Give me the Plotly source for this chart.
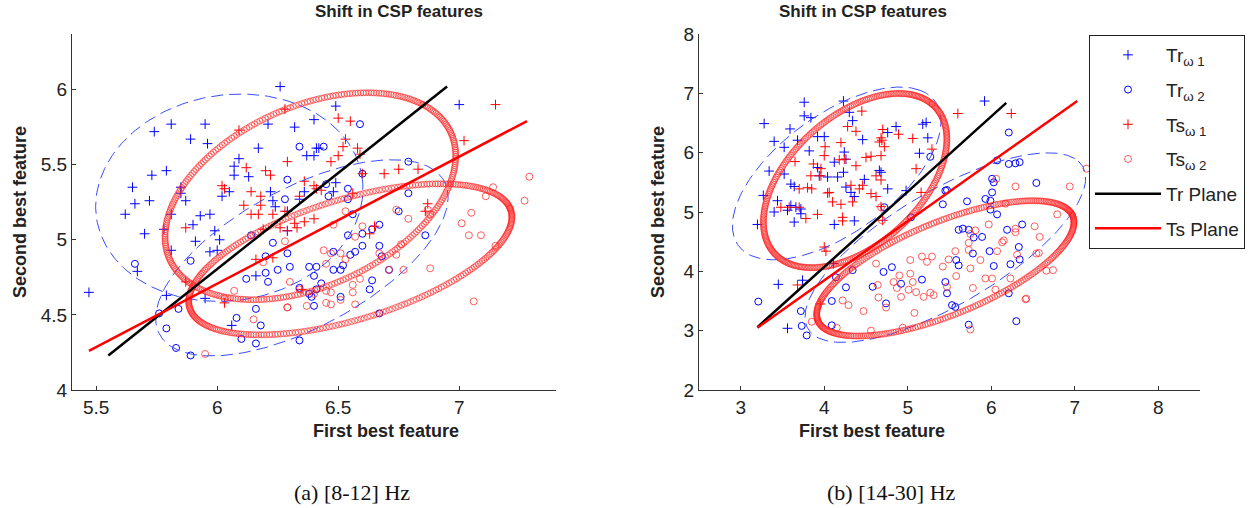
import numpy as np
import plotly.graph_objects as go

# ---------------- Panel (a) [8-12] Hz ----------------
a_tr1_x = [6.26,5.81,5.95,5.74,5.89,5.96,6.21,6.32,6.17,6.09,6.07,6.07,6.13,5.79,5.73,5.65,5.66,5.72,5.62,5.81,5.85,5.85,5.87,5.93,5.97,5.90,6.02,6.05,6.22,6.23,6.24,5.70,5.78,5.81,5.91,5.97,6.00,6.01,5.99,5.67,5.47,5.79,5.95,6.06,6.16,6.29,6.36,6.41,6.37,6.40,6.34,6.29,6.49,6.40,6.42,6.49,6.48,7.00]
a_tr1_y = [6.02,5.77,5.77,5.72,5.67,5.64,5.77,5.75,5.61,5.54,5.49,5.43,5.42,5.46,5.43,5.35,5.24,5.26,5.17,5.17,5.35,5.31,5.26,5.16,5.17,5.10,5.29,5.32,5.32,5.26,5.22,5.04,5.07,4.93,4.99,4.92,4.93,5.00,5.06,4.79,4.65,4.63,4.61,4.43,4.76,5.06,5.32,5.61,5.56,5.56,5.27,5.19,5.89,5.80,5.61,5.38,5.32,5.90]
a_tr2_x = [6.34,6.29,6.28,6.23,6.14,6.20,6.29,6.12,6.20,6.25,6.21,6.30,6.38,6.41,6.34,6.38,6.41,6.16,6.08,6.18,6.10,6.16,6.34,5.66,5.89,5.79,5.76,5.83,5.89,5.84,6.59,6.44,6.79,6.60,6.45,6.54,6.46,6.54,6.56,6.75,6.79,6.67,6.64,6.60,6.54,6.86,6.67,6.60,6.57,6.55,6.48,6.68,6.71,6.40,6.48,6.51,6.52,6.43,6.64,6.63,6.51,6.40,6.67,6.39]
a_tr2_y = [5.62,5.40,5.27,4.98,5.03,4.89,4.91,4.74,4.78,4.80,4.72,4.82,4.82,4.82,4.68,4.64,4.67,4.54,4.48,4.43,4.34,4.31,4.33,4.84,4.86,4.41,4.51,4.28,4.23,4.54,5.77,5.62,5.52,5.44,5.37,5.34,5.29,5.27,5.17,5.19,5.31,5.10,5.07,5.04,5.03,5.03,4.96,4.96,4.92,4.90,4.92,4.89,4.80,4.76,4.80,4.80,4.83,4.71,4.73,4.67,4.62,4.56,4.51,4.62]
a_ts1_x = [6.09,6.28,6.29,6.20,6.22,6.12,6.02,6.03,6.14,6.18,6.11,6.18,6.23,6.14,6.17,6.28,6.34,6.41,6.36,6.32,6.36,6.33,6.26,6.29,6.19,6.16,6.23,5.87,6.03,5.87,6.35,6.50,6.55,6.53,6.52,6.58,6.47,6.50,6.59,6.60,6.69,6.75,6.83,6.40,6.43,6.56,6.40,6.65,6.63,6.87,6.86,7.02,7.15]
a_ts1_y = [5.73,5.87,5.52,5.46,5.43,5.48,5.36,5.34,5.32,5.29,5.23,5.23,5.17,5.17,5.17,5.19,5.29,5.34,5.39,5.11,5.12,5.08,5.08,5.06,5.07,4.87,4.88,4.72,4.58,5.08,4.67,5.81,5.79,5.67,5.62,5.61,5.52,5.56,5.57,5.44,5.44,5.47,5.47,5.36,5.33,5.31,5.14,5.09,5.04,5.24,5.19,5.66,5.90]
a_ts2_x = [6.28,6.07,6.29,6.37,6.15,5.95,6.40,6.30,6.34,6.48,6.53,6.60,6.57,6.76,6.74,6.88,6.77,6.71,6.87,6.88,7.05,7.01,7.04,7.09,7.11,7.14,7.29,7.27,7.15,7.06,6.44,6.47,6.51,6.53,6.45,6.45,6.47,6.51,6.56,6.59,6.56,6.57,6.45,6.47,6.67,6.74,6.79,6.03,6.19,6.29]
a_ts2_y = [4.99,4.66,4.55,4.56,4.47,4.24,4.64,4.72,4.67,5.10,5.19,5.09,5.02,4.97,4.90,4.81,4.80,4.80,5.20,5.17,5.18,5.11,5.03,5.03,5.29,5.35,5.42,5.26,4.96,4.59,4.93,4.91,4.91,4.87,4.84,4.66,4.65,4.60,4.65,4.74,4.70,4.57,4.58,4.57,4.91,5.20,5.14,4.61,4.85,4.55]
a_tr_plane_x = [5.55, 6.95]
a_tr_plane_y = [4.23, 6.02]
a_ts_plane_x = [5.47, 7.28]
a_ts_plane_y = [4.26, 5.79]
# ellipse descriptors: centre x, centre y, semi-axis u (x,y), semi-axis v (x,y)
a_ell_tr1 = [6.05, 5.28, 0.55, 0.12, -0.05, 0.68]
a_ell_tr2 = [6.35, 4.88, 0.55, 0.58, -0.25, 0.30]
a_ell_ts1 = [6.385, 5.29, 0.465, 0.61, -0.38, 0.32]
a_ell_ts2 = [6.55, 4.87, 0.66, 0.34, -0.10, 0.37]

# ---------------- Panel (b) [14-30] Hz ----------------
b_tr1_x = [3.76,4.23,3.28,3.76,3.84,4.30,4.34,3.59,3.40,3.52,3.68,3.92,4.00,4.46,3.82,4.24,4.26,3.34,3.52,3.60,3.64,3.92,3.94,4.04,4.12,4.16,4.23,4.26,4.32,4.36,4.48,4.66,4.68,4.76,4.86,4.76,4.98,3.27,3.44,3.40,3.56,3.66,3.72,3.60,3.72,3.64,3.20,4.12,4.36,3.45,3.74,3.56,5.22,5.18,5.24,5.14,5.92,4.11]
b_tr1_y = [6.85,6.87,6.49,6.62,6.59,6.68,6.54,6.40,6.19,6.09,6.21,6.27,6.27,6.22,6.03,6.01,5.89,5.69,5.64,5.47,5.43,5.75,5.61,5.59,5.84,5.59,5.67,5.42,5.33,5.26,5.55,5.70,5.67,5.39,6.44,6.34,5.36,5.28,5.19,5.00,5.03,5.08,5.05,5.11,4.97,4.83,4.79,4.79,4.85,3.78,3.85,3.04,6.51,6.48,6.25,5.99,6.87,4.13]
b_tr2_x = [3.21,3.72,3.73,3.79,4.09,4.09,4.58,4.81,4.71,4.74,4.92,5.17,4.26,4.14,4.34,4.72,5.04,5.42,5.45,5.27,6.21,6.07,6.21,6.29,6.34,6.54,6.01,6.03,6.01,5.93,5.99,5.71,5.47,5.99,6.07,6.37,6.19,6.33,6.34,6.23,6.03,5.98,5.61,5.73,5.89,5.79,5.58,5.61,5.45,5.47,5.53,5.57,6.21,6.30,5.73,5.66,5.78]
b_tr2_y = [3.49,3.33,3.08,2.92,3.50,3.09,3.74,4.07,3.99,3.46,3.79,3.86,3.73,3.90,4.02,5.08,4.91,5.13,5.36,5.93,6.34,5.87,5.81,5.82,5.84,5.49,5.56,5.50,5.33,5.22,5.19,5.18,5.37,5.04,4.96,4.79,4.70,4.41,4.20,4.12,4.09,4.34,4.70,4.70,4.58,4.57,4.19,4.10,3.82,3.63,3.43,3.40,3.63,3.16,3.10,4.72,4.30]
b_ts1_x = [4.45,4.28,4.38,4.70,4.89,5.06,4.69,4.72,4.20,4.01,4.00,4.18,4.24,4.50,4.56,4.68,4.38,3.87,3.96,3.84,3.96,3.65,4.62,4.68,5.10,5.29,3.70,3.80,3.85,4.04,4.06,4.32,4.42,4.46,4.56,4.62,4.10,4.20,4.34,3.48,3.58,3.70,3.78,3.92,4.22,4.22,4.70,5.16,4.00,4.02,3.68,4.68,5.60,6.24,4.68,4.66,3.95]
b_ts1_y = [6.70,6.44,6.36,6.39,6.31,6.24,6.21,6.10,6.17,6.10,5.95,5.88,5.89,5.92,5.94,5.95,5.78,5.81,5.73,5.61,5.61,5.85,5.61,5.54,5.73,6.06,5.39,5.41,5.39,5.32,5.33,5.45,5.39,5.45,5.31,5.26,5.17,5.13,5.17,5.08,5.08,5.08,4.89,4.96,4.91,4.85,4.86,5.33,4.41,4.34,3.77,5.09,6.66,6.66,6.25,6.18,3.45]
b_ts2_x = [7.14,6.94,6.29,6.06,6.17,6.52,6.29,5.81,5.75,5.97,6.13,5.73,5.73,5.57,6.07,5.87,6.31,6.57,5.49,5.75,5.58,5.42,5.93,6.01,6.23,6.66,6.05,5.78,6.41,5.47,5.75,6.79,6.58,6.74,6.54,6.42,6.29,6.15,3.85,4.29,4.47,4.56,4.64,4.65,4.74,4.83,4.87,4.92,4.94,5.01,5.03,5.03,5.08,5.10,5.17,5.19,5.23,5.29,5.27,5.31,4.15,4.22,4.68,4.69,4.62,4.90,5.06]
b_ts2_y = [5.73,5.43,5.43,5.56,5.14,4.76,4.66,4.69,4.63,4.79,4.49,4.48,4.36,4.34,4.34,4.19,4.28,4.31,4.20,4.05,3.92,4.08,3.88,3.88,3.88,4.01,3.69,3.72,3.53,3.74,3.02,4.96,4.58,4.02,4.30,3.54,4.72,4.52,3.15,3.43,3.33,3.00,3.77,3.56,3.39,3.82,3.72,3.57,3.05,3.69,4.19,3.96,3.30,3.65,4.25,3.57,4.16,4.25,3.64,3.60,3.05,3.51,5.08,4.86,4.13,3.93,3.82]
b_tr_plane_x = [3.20, 6.18]
b_tr_plane_y = [3.06, 6.84]
b_ts_plane_x = [3.20, 7.03]
b_ts_plane_y = [3.05, 6.87]
b_ell_tr1 = [4.15, 5.65, 1.00, 1.40, -0.75, 0.40]
b_ell_tr2 = [5.45, 4.40, 1.55, 1.50, -0.65, 0.55]
b_ell_ts1 = [4.37, 5.53, 0.92, 1.29, -0.60, 0.70]
b_ell_ts2 = [5.45, 4.05, 1.52, 0.90, -0.25, 0.70]

series_names = ["Tr<sub>\u03c9 1</sub>", "Tr<sub>\u03c9 2</sub>", "Ts<sub>\u03c9 1</sub>", "Ts<sub>\u03c9 2</sub>", "Tr Plane", "Ts Plane"]
panel_titles = ["<b>Shift in CSP features</b>", "<b>Shift in CSP features</b>"]
captions = ["(a) [8-12] Hz", "(b) [14-30] Hz"]

BLUE = "#0000ff"
RED = "#ff0000"
LIGHTRED = "rgba(255,40,40,0.75)"
SANS = "Liberation Sans"


def outline(p, n):
    t = np.linspace(0, 2 * np.pi, n)
    x = p[0] + p[2] * np.cos(t) + p[4] * np.sin(t)
    y = p[1] + p[3] * np.cos(t) + p[5] * np.sin(t)
    return x, y


fig = go.Figure()

panels = [
    dict(xa="x", ya="y", tr1=(a_tr1_x, a_tr1_y), tr2=(a_tr2_x, a_tr2_y), ts1=(a_ts1_x, a_ts1_y),
         ts2=(a_ts2_x, a_ts2_y), trp=(a_tr_plane_x, a_tr_plane_y), tsp=(a_ts_plane_x, a_ts_plane_y),
         etr=[a_ell_tr1, a_ell_tr2], ets=[a_ell_ts1, a_ell_ts2], legend=False),
    dict(xa="x2", ya="y2", tr1=(b_tr1_x, b_tr1_y), tr2=(b_tr2_x, b_tr2_y), ts1=(b_ts1_x, b_ts1_y),
         ts2=(b_ts2_x, b_ts2_y), trp=(b_tr_plane_x, b_tr_plane_y), tsp=(b_ts_plane_x, b_ts_plane_y),
         etr=[b_ell_tr1, b_ell_tr2], ets=[b_ell_ts1, b_ell_ts2], legend=True),
]

for P in panels:
    show = P["legend"]
    common = dict(xaxis=P["xa"], yaxis=P["ya"])
    fig.add_trace(go.Scatter(x=P["tr1"][0], y=P["tr1"][1], mode="markers", name=series_names[0],
                             legendgroup="g1", showlegend=show,
                             marker=dict(symbol="cross-thin-open", size=7, color=BLUE, line=dict(width=1, color=BLUE)),
                             **common))
    fig.add_trace(go.Scatter(x=P["tr2"][0], y=P["tr2"][1], mode="markers", name=series_names[1],
                             legendgroup="g2", showlegend=show,
                             marker=dict(symbol="circle-open", size=7, color=BLUE, line=dict(width=1, color=BLUE)),
                             **common))
    fig.add_trace(go.Scatter(x=P["ts1"][0], y=P["ts1"][1], mode="markers", name=series_names[2],
                             legendgroup="g3", showlegend=show,
                             marker=dict(symbol="cross-thin-open", size=7, color=RED, line=dict(width=1, color=RED)),
                             **common))
    fig.add_trace(go.Scatter(x=P["ts2"][0], y=P["ts2"][1], mode="markers", name=series_names[3],
                             legendgroup="g4", showlegend=show,
                             marker=dict(symbol="circle-open", size=7, color=LIGHTRED, line=dict(width=1, color=LIGHTRED)),
                             **common))
    for e in P["etr"]:
        ex, ey = outline(e, 240)
        fig.add_trace(go.Scatter(x=ex, y=ey, mode="lines", showlegend=False, hoverinfo="skip",
                                 line=dict(color="#3a4cff", width=1, dash="12px,6px"), **common))
    for e in P["ets"]:
        ex, ey = outline(e, 320)
        fig.add_trace(go.Scatter(x=ex, y=ey, mode="markers", showlegend=False, hoverinfo="skip",
                                 marker=dict(symbol="circle-open", size=6, color="rgba(255,30,30,0.6)",
                                             line=dict(width=1, color="rgba(255,30,30,0.6)")), **common))
    fig.add_trace(go.Scatter(x=P["trp"][0], y=P["trp"][1], mode="lines", name=series_names[4],
                             legendgroup="g5", showlegend=show, line=dict(color="black", width=2.5), **common))
    fig.add_trace(go.Scatter(x=P["tsp"][0], y=P["tsp"][1], mode="lines", name=series_names[5],
                             legendgroup="g6", showlegend=show, line=dict(color=RED, width=2.5), **common))

W, H = 1258, 508
def px_x(p):
    return p / W
def px_y(p):
    return 1 - p / H

axis_common = dict(showline=True, linecolor="#333333", linewidth=1, ticks="inside", ticklen=4,
                   tickcolor="#333333", showgrid=False, zeroline=False, mirror=False, automargin=False,
                   tickfont=dict(family=SANS, size=19, color="#222222"))

fig.update_layout(
    template="none",
    width=W, height=H,
    margin=dict(l=0, r=0, t=0, b=0, pad=0),
    paper_bgcolor="white", plot_bgcolor="white",
    font=dict(family=SANS),
    xaxis=dict(domain=[px_x(72), px_x(556)], range=[5.4, 7.4], tickvals=[5.5, 6, 6.5, 7],
               ticktext=["5.5", "6", "6.5", "7"], anchor="y", **axis_common),
    yaxis=dict(domain=[px_y(390), px_y(34)], range=[4, 6.37], tickvals=[4, 4.5, 5, 5.5, 6],
               ticktext=["4", "4.5", "5", "5.5", "6"], anchor="x", **axis_common),
    xaxis2=dict(domain=[px_x(699), px_x(1200)], range=[2.5, 8.5], tickvals=[3, 4, 5, 6, 7, 8],
                anchor="y2", **axis_common),
    yaxis2=dict(domain=[px_y(390), px_y(34)], range=[2, 8], tickvals=[2, 3, 4, 5, 6, 7, 8],
                anchor="x2", **axis_common),
    showlegend=True,
    legend=dict(x=px_x(1089), y=px_y(35), xanchor="left", yanchor="top",
                bgcolor="white", bordercolor="#222222", borderwidth=1,
                font=dict(family=SANS, size=19, color="#222222"),
                tracegroupgap=7, itemwidth=66),
)

ann = []
bold_font = dict(family=SANS, size=18, color="#222222")
for cx, title in [(313, panel_titles[0]), (949, panel_titles[1])]:
    ann.append(dict(x=px_x(cx), y=px_y(12), xref="paper", yref="paper", yanchor="middle", text=title,
                    showarrow=False, font=dict(family=SANS, size=17, color="#222222")))
for cx in [311, 947]:
    ann.append(dict(x=px_x(cx), y=px_y(431), xref="paper", yref="paper", yanchor="middle",
                    text="<b>First best feature</b>", showarrow=False, font=bold_font))
for cx in [20, 658]:
    ann.append(dict(x=px_x(cx), y=px_y(212), xref="paper", yref="paper", xanchor="center", yanchor="middle",
                    text="<b>Second best feature</b>", showarrow=False, textangle=-90, font=bold_font))
for cx, cap in [(292, captions[0]), (958, captions[1])]:
    ann.append(dict(x=px_x(cx), y=px_y(492), xref="paper", yref="paper", yanchor="middle", text=cap,
                    showarrow=False, font=dict(family="Liberation Serif", size=22, color="#111111")))
fig.update_layout(annotations=ann)

# remove the browser's default 8 px body margin so the figure sits at the window corner
fig.write_html("out.html", config={"displayModeBar": False},
               post_script="document.body.style.margin='0px';")
